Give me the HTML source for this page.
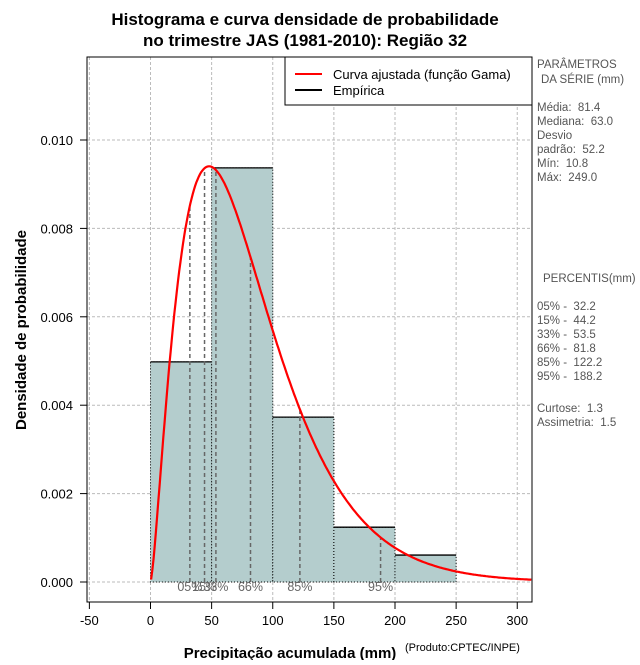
<!DOCTYPE html>
<html><head><meta charset="utf-8"><style>
body{margin:0;background:#fff;font-family:"Liberation Sans",sans-serif;}
svg text{font-family:"Liberation Sans",sans-serif;white-space:pre;}
</style></head><body>
<svg width="640" height="660" xmlns="http://www.w3.org/2000/svg">
<text x="305" y="25" text-anchor="middle" font-size="17" font-weight="bold">Histograma e curva densidade de probabilidade</text>
<text x="305" y="46" text-anchor="middle" font-size="17" font-weight="bold">no trimestre JAS (1981-2010): Região 32</text>
<g id="grid"></g>
<g id="bars"></g>
<g id="pct"></g>
<path id="curve" fill="none" stroke="#ff0000" stroke-width="2.2"/>
<rect x="87" y="57" width="445" height="545" fill="none" stroke="#000"/>
<g id="axes"></g>
<g>
<rect x="285" y="57" width="247" height="48" fill="#fff" stroke="#000"/>
<line x1="295" y1="74" x2="322" y2="74" stroke="#ff0000" stroke-width="2"/>
<text x="333" y="79" font-size="13">Curva ajustada (função Gama)</text>
<line x1="295" y1="90" x2="322" y2="90" stroke="#000" stroke-width="2"/>
<text x="333" y="95" font-size="13">Empírica</text>
</g>
<g font-size="11.5" fill="#555">
<text x="537" y="68">PARÂMETROS</text>
<text x="541" y="83">DA SÉRIE (mm)</text>
<text x="537" y="111">Média:  81.4</text>
<text x="537" y="125">Mediana:  63.0</text>
<text x="537" y="139">Desvio</text>
<text x="537" y="153">padrão:  52.2</text>
<text x="537" y="167">Mín:  10.8</text>
<text x="537" y="181">Máx:  249.0</text>
<text x="543" y="282">PERCENTIS(mm)</text>
<text x="537" y="310">05% -  32.2</text>
<text x="537" y="324">15% -  44.2</text>
<text x="537" y="338">33% -  53.5</text>
<text x="537" y="352">66% -  81.8</text>
<text x="537" y="366">85% -  122.2</text>
<text x="537" y="380">95% -  188.2</text>
<text x="537" y="412">Curtose:  1.3</text>
<text x="537" y="426">Assimetria:  1.5</text>
</g>
<text x="290" y="658" text-anchor="middle" font-size="15" font-weight="bold">Precipitação acumulada (mm)</text>
<text x="405" y="651" font-size="11">(Produto:CPTEC/INPE)</text>
<text transform="translate(26,330) rotate(-90)" text-anchor="middle" font-size="15" font-weight="bold">Densidade de probabilidade</text>
</svg>
<script>
const binEdges=[0,50,100,150,200,250];
const binDensity=[0.00498,0.00937,0.00373,0.00124,0.00061];
const xTicks=[-50,0,50,100,150,200,250,300];
const yTicks=[0,0.002,0.004,0.006,0.008,0.010];
const yTickLabels=["0.000","0.002","0.004","0.006","0.008","0.010"];
const pctValues=[32.2,44.2,53.5,81.8,122.2,188.2];
const pctLabels=["05%","15%","33%","66%","85%","95%"];
const gammaMean=81.4, gammaSd=52.2;
const NS="http://www.w3.org/2000/svg";
const X=v=>150.5+v*1.2225, Y=v=>582-v*44200;
function mk(tag,attrs,parent){const e=document.createElementNS(NS,tag);for(const k in attrs)e.setAttribute(k,attrs[k]);document.getElementById(parent).appendChild(e);return e;}
const k=(gammaMean/gammaSd)**2, th=gammaSd*gammaSd/gammaMean;
function lgamma(z){const g=7,c=[0.99999999999980993,676.5203681218851,-1259.1392167224028,771.32342877765313,-176.61502916214059,12.507343278686905,-0.13857109526572012,9.9843695780195716e-6,1.5056327351493116e-7];z-=1;let x=c[0];for(let i=1;i<9;i++)x+=c[i]/(z+i);const t=z+g+0.5;return 0.5*Math.log(2*Math.PI)+(z+0.5)*Math.log(t)-t+Math.log(x);}
const pdf=x=>x<=0?0:Math.exp((k-1)*Math.log(x)-x/th-lgamma(k)-k*Math.log(th));
xTicks.forEach(t=>{let l=mk('line',{x1:X(t),x2:X(t),y1:57,y2:602,stroke:'#bbb','stroke-dasharray':'3,2'},'grid');

});
yTicks.forEach(t=>{let l=mk('line',{x1:87,x2:532,y1:Y(t),y2:Y(t),stroke:'#bbb','stroke-dasharray':'3,2'},'grid');

});
binDensity.forEach((d,i)=>{let r=mk('rect',{x:X(binEdges[i]),y:Y(d),width:X(binEdges[i+1])-X(binEdges[i]),height:Y(0)-Y(d),fill:'#b4cdcd',stroke:'#000','stroke-dasharray':'1,2','stroke-width':1},'bars');


let t=mk('line',{x1:X(binEdges[i]),x2:X(binEdges[i+1]),y1:Y(d),y2:Y(d),stroke:'#000','stroke-width':1.3},'bars');

});
pctValues.forEach((p,i)=>{let l=mk('line',{x1:X(p),x2:X(p),y1:Y(0),y2:Y(pdf(p)),stroke:'#666','stroke-width':1.5,'stroke-dasharray':'4,3'},'pct');


let t=mk('text',{x:X(p),y:591,'text-anchor':'middle','font-size':12.5,fill:'#666'},'pct');t.textContent=pctLabels[i];

});
let d='';for(let x=0.5;x<=312;x+=1){d+=(d?'L':'M')+X(x).toFixed(1)+','+Y(pdf(x)).toFixed(1);}
document.getElementById('curve').setAttribute('d',d);
xTicks.forEach(t=>{mk('line',{x1:X(t),x2:X(t),y1:602,y2:609,stroke:'#000'},'axes');
let tx=mk('text',{x:X(t),y:625,'text-anchor':'middle','font-size':13},'axes');tx.textContent=t;

});
yTicks.forEach((t,i)=>{mk('line',{x1:80,x2:87,y1:Y(t),y2:Y(t),stroke:'#000'},'axes');
let tx=mk('text',{x:73,y:Y(t)+5,'text-anchor':'end','font-size':13},'axes');tx.textContent=yTickLabels[i];

});
</script>
</body></html>
